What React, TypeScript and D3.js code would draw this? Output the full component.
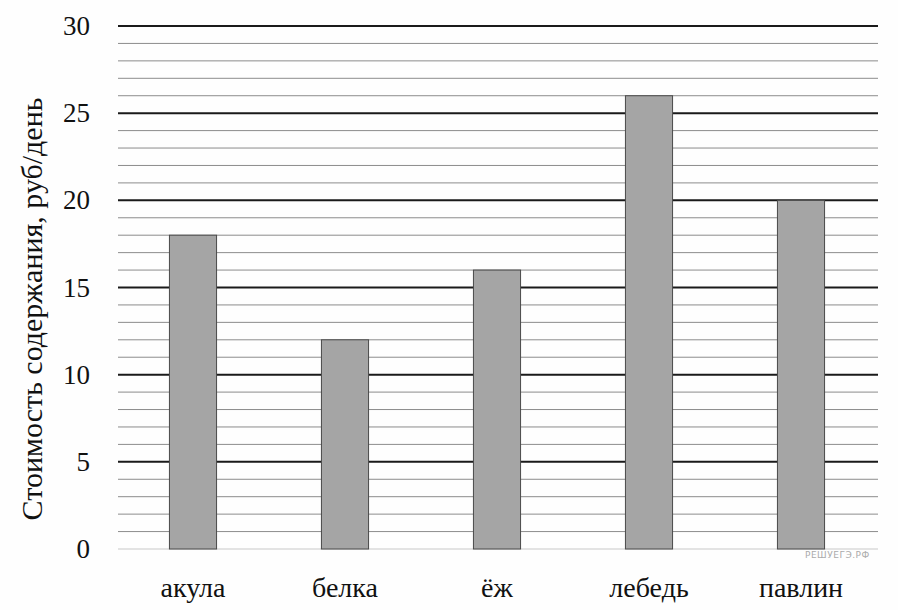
import React from "react";
import * as d3 from "d3";

const categories = ["акула", "белка", "ёж", "лебедь", "павлин"];
const values = [18, 12, 16, 26, 20];
const majorTicks = [0, 5, 10, 15, 20, 25, 30];
const minorTicks = d3.range(0, 31, 1);
const yTitle = "Стоимость содержания, руб/день";
const watermark = "РЕШУЕГЭ.РФ";

export default function App() {
  const W = 898, H = 610;
  const x = d3.scaleBand<string>().domain(categories).range([117, 877]).paddingInner(0.69).paddingOuter(0.345);
  const y = d3.scaleLinear().domain([0, 30]).range([549, 26]);
  const font = "Liberation Serif, Times New Roman, Tinos, DejaVu Serif, serif";
  return (
    <svg width={W} height={H} style={{ position: "absolute", left: 0, top: 0, background: "#fff" }}>
      <rect x={0} y={0} width={W} height={H} fill="#fefefe" />
      {minorTicks.filter((t) => t % 5 !== 0).map((t) => (
        <line key={"m" + t} x1={118} x2={878} y1={y(t)} y2={y(t)} stroke="#8c8c8c" strokeWidth={1} />
      ))}
      {majorTicks.map((t) => (
        <line key={"M" + t} x1={118} x2={878} y1={y(t)} y2={y(t)} stroke={t === 0 ? "#c8c8c8" : "#1a1a1a"} strokeWidth={t === 0 ? 1 : 2} />
      ))}
      {categories.map((c, i) => (
        <g key={c}>
          <rect x={x(c)} y={y(values[i])} width={x.bandwidth()} height={y(0) - y(values[i])} fill="#a5a5a5" stroke="#4a4a4a" strokeWidth={1} />
          <text x={(x(c) as number) + x.bandwidth() / 2} y={597} textAnchor="middle" style={{ fontFamily: font }} fontSize={28} fill="#111">{c}</text>
        </g>
      ))}
      {majorTicks.map((t) => (
        <text key={"t" + t} x={90} y={y(t) + 9} textAnchor="end" style={{ fontFamily: font }} fontSize={27} fill="#111">{t}</text>
      ))}
      <text transform={`translate(42,${309}) rotate(-90)`} textAnchor="middle" style={{ fontFamily: font }} fontSize={30} fill="#111">{yTitle}</text>
      <text x={805} y={558} fontFamily="DejaVu Sans, sans-serif" fontSize={9} fill="#aaa" letterSpacing={0.5}>{watermark}</text>
    </svg>
  );
}
